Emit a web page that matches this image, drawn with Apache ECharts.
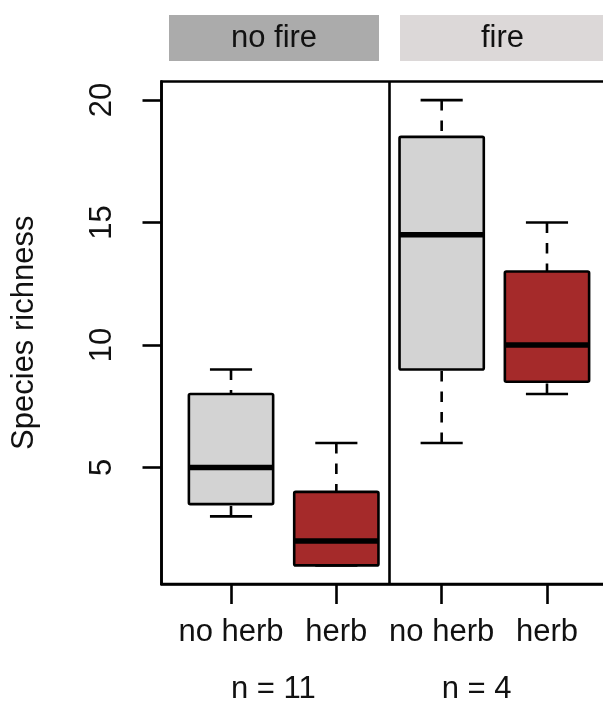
<!DOCTYPE html>
<html>
<head>
<meta charset="utf-8">
<script src="https://cdn.jsdelivr.net/npm/echarts@6/dist/echarts.min.js"></script>
<style>
html,body{margin:0;padding:0;background:#fff;}
#chart{width:603px;height:702px;}
</style>
</head>
<body>
<div id="chart"></div>
<script>
// ---- data ----
const categories = ['no herb', 'herb', 'no herb', 'herb'];
const positions = [1, 2, 3, 4];
const fireGroups = ['no fire', 'fire'];
const groupN = ['n = 11', 'n = 4'];
const groupNPositions = [1, 3];
const whiskerLow = [3, 1, 6, 8];
const q1 = [3.5, 1, 9, 8.5];
const median = [5, 2, 14.5, 10];
const q3 = [8, 4, 18.5, 13];
const whiskerHigh = [9, 6, 20, 15];
const yTicks = [5, 10, 15, 20];
const yAxisTitle = 'Species richness';

// ---- styles ----
const FONT = '"Liberation Sans", Arial, sans-serif';
const FS = 31;
const boxFills = ['#D3D3D3', '#A52A2A', '#D3D3D3', '#A52A2A'];
const headerFills = ['#ABABAB', '#DCD8D8'];

const boxData = positions.map((p, i) => [p, whiskerLow[i], q1[i], median[i], q3[i], whiskerHigh[i]]);

const chart = echarts.init(document.getElementById('chart'), null, {renderer: 'canvas'});

function renderBox(params, api) {
  const i = params.dataIndex;
  const x = api.value(0);
  const halfBox = api.size([0.8, 0])[0] / 2;
  const halfCap = api.size([0.4, 0])[0] / 2;
  const pLow = api.coord([x, api.value(1)]);
  const pQ1 = api.coord([x, api.value(2)]);
  const pMed = api.coord([x, api.value(3)]);
  const pQ3 = api.coord([x, api.value(4)]);
  const pHigh = api.coord([x, api.value(5)]);
  const cx = pMed[0];
  const lineW = 2.6;
  const dash = [10.5, 10];
  return {
    type: 'group',
    children: [
      { type: 'line', shape: {x1: cx, y1: pLow[1], x2: cx, y2: pQ1[1]},
        style: {stroke: '#000', lineWidth: lineW, lineDash: dash} },
      { type: 'line', shape: {x1: cx, y1: pHigh[1], x2: cx, y2: pQ3[1]},
        style: {stroke: '#000', lineWidth: lineW, lineDash: dash} },
      { type: 'line', shape: {x1: cx - halfCap, y1: pLow[1], x2: cx + halfCap, y2: pLow[1]},
        style: {stroke: '#000', lineWidth: lineW} },
      { type: 'line', shape: {x1: cx - halfCap, y1: pHigh[1], x2: cx + halfCap, y2: pHigh[1]},
        style: {stroke: '#000', lineWidth: lineW} },
      { type: 'rect', shape: {x: cx - halfBox, y: pQ3[1], width: 2 * halfBox, height: pQ1[1] - pQ3[1], r: 1.5},
        style: {fill: boxFills[i], stroke: '#000', lineWidth: lineW} },
      { type: 'line', shape: {x1: cx - halfBox, y1: pMed[1], x2: cx + halfBox, y2: pMed[1]},
        style: {stroke: '#000', lineWidth: 5.5} }
    ]
  };
}

const option = {
  animation: false,
  backgroundColor: '#fff',
  textStyle: {fontFamily: FONT},
  grid: {left: 161.5, top: 81.5, width: 455, height: 502.5, show: true,
         borderColor: '#000', borderWidth: 2.6, backgroundColor: 'transparent', containLabel: false,
         outerBoundsMode: 'none'},
  xAxis: [{
    type: 'value', min: 0.34, max: 4.66, position: 'bottom',
    splitLine: {show: false},
    axisLine: {show: true, onZero: false, lineStyle: {color: '#000', width: 2.6}},
    axisTick: {show: true, customValues: positions, length: 20, inside: false, lineStyle: {color: '#000', width: 2.6}},
    axisLabel: {show: true, customValues: positions, margin: 33,
      formatter: v => categories[positions.indexOf(v)],
      color: '#111', fontSize: FS, fontFamily: FONT}
  }, {
    type: 'value', min: 0.34, max: 4.66, position: 'bottom',
    splitLine: {show: false},
    axisLine: {show: false}, axisTick: {show: false},
    axisLabel: {show: true, customValues: groupNPositions, margin: 90, align: 'left',
      formatter: v => groupN[groupNPositions.indexOf(v)],
      color: '#111', fontSize: FS, fontFamily: FONT}
  }],
  yAxis: {
    type: 'value', min: 0.24, max: 20.76,
    splitLine: {show: false},
    axisLine: {show: true, onZero: false, lineStyle: {color: '#000', width: 2.6}},
    axisTick: {show: true, customValues: yTicks, length: 19, lineStyle: {color: '#000', width: 2.6}},
    axisLabel: {show: true, customValues: yTicks, rotate: 90, margin: 44,
      color: '#111', fontSize: FS, fontFamily: FONT},
    name: yAxisTitle, nameLocation: 'middle', nameGap: 122, nameRotate: 90,
    nameTextStyle: {color: '#111', fontSize: FS, fontFamily: FONT}
  },
  graphic: [
    {type: 'rect', left: 169, top: 15, shape: {width: 210, height: 46}, style: {fill: headerFills[0]}},
    {type: 'rect', left: 400, top: 15, shape: {width: 210, height: 46}, style: {fill: headerFills[1]}},
    {type: 'text', x: 274, y: 38, style: {text: fireGroups[0], fill: '#111', font: FS + 'px ' + FONT, align: 'center', verticalAlign: 'middle'}},
    {type: 'text', x: 502.5, y: 38, style: {text: fireGroups[1], fill: '#111', font: FS + 'px ' + FONT, align: 'center', verticalAlign: 'middle'}}
  ],
  series: [{
    type: 'custom',
    xAxisIndex: 0,
    renderItem: renderBox,
    encode: {x: 0, y: [1, 2, 3, 4, 5]},
    data: boxData,
    clip: false,
    z: 3,
    markLine: {
      silent: true, symbol: 'none', animation: false,
      label: {show: false},
      lineStyle: {type: 'solid', color: '#000', width: 2.6},
      data: [{xAxis: 2.5}]
    }
  }]
};
chart.setOption(option);
</script>
</body>
</html>
